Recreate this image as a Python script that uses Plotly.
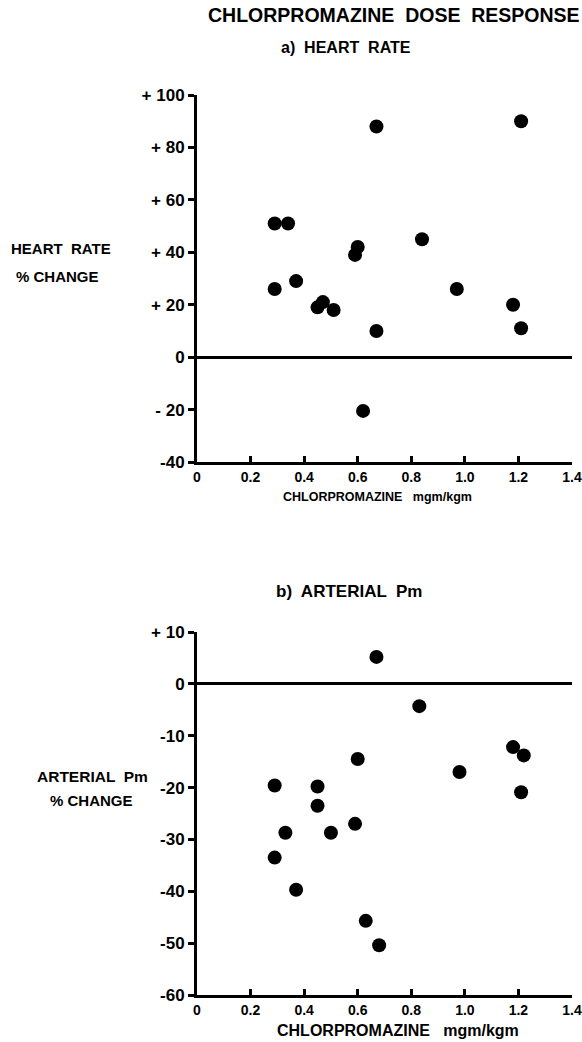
import plotly.graph_objects as go

# ---- data ----
hr_dose = [0.29, 0.34, 0.29, 0.37, 0.45, 0.47, 0.51, 0.59, 0.60, 0.67, 0.84, 1.21, 0.67, 0.62, 0.97, 1.18, 1.21]
hr_change = [51, 51, 26, 29, 19, 21, 18, 39, 42, 88, 45, 90, 10, -20.5, 26, 20, 11]

ap_dose = [0.29, 0.33, 0.29, 0.37, 0.67, 0.83, 0.60, 0.45, 0.45, 0.98, 1.18, 1.22, 1.21, 0.50, 0.59, 0.63, 0.68]
ap_change = [-19.6, -28.7, -33.5, -39.7, 5.2, -4.3, -14.5, -19.8, -23.5, -17, -12.2, -13.8, -20.9, -28.7, -27, -45.7, -50.4]

x_ticks = [0, 0.2, 0.4, 0.6, 0.8, 1.0, 1.2, 1.4]
x_ticktext = ["0", "0.2", "0.4", "0.6", "0.8", "1.0", "1.2", "1.4"]
hr_ticks = [100, 80, 60, 40, 20, 0, -20, -40]
hr_ticktext = ["+\u00a0100", "+\u00a080", "+\u00a060", "+\u00a040", "+\u00a020", "0", "-\u00a020", "-40"]
ap_ticks = [10, 0, -10, -20, -30, -40, -50, -60]
ap_ticktext = ["+\u00a010", "0", "-10", "-20", "-30", "-40", "-50", "-60"]

W, H = 582, 1042
FONT = "Liberation Sans"

def px(x):
    return x / W

def py(y):
    return 1 - y / H

fig = go.Figure()
fig.add_trace(go.Scatter(x=hr_dose, y=hr_change, mode="markers", xaxis="x", yaxis="y",
                         marker=dict(size=14, color="black"), showlegend=False))
fig.add_trace(go.Scatter(x=ap_dose, y=ap_change, mode="markers", xaxis="x2", yaxis="y2",
                         marker=dict(size=14, color="black"), showlegend=False))

def xaxis(anchor, size):
    return dict(domain=[px(197), px(572)], range=[0, 1.4], anchor=anchor, automargin=False,
                tickvals=x_ticks, ticktext=x_ticktext, ticks="inside", ticklen=6,
                tickwidth=2.5, tickcolor="black", showline=True, linewidth=3,
                linecolor="black", showgrid=False, zeroline=False,
                tickfont=dict(family=FONT, size=size, color="black", weight="bold"))

def yaxis(anchor, dom, rng, tv, tt):
    return dict(domain=dom, range=rng, anchor=anchor, tickvals=tv, ticktext=tt, automargin=False,
                ticks="outside", ticklen=6, tickwidth=2.5, tickcolor="black",
                showline=True, linewidth=3, linecolor="black", showgrid=False,
                zeroline=True, zerolinewidth=3, zerolinecolor="black",
                tickfont=dict(family=FONT, size=17, color="black", weight="bold"))

fig.update_layout(
    width=W, height=H, margin=dict(l=0, r=0, t=0, b=0, autoexpand=False),
    paper_bgcolor="white", plot_bgcolor="white",
    font=dict(family=FONT, color="black", weight="bold"),
    xaxis=xaxis("y", 14),
    yaxis=yaxis("x", [py(462), py(95)], [-40, 100], hr_ticks, hr_ticktext),
    xaxis2=xaxis("y2", 14),
    yaxis2=yaxis("x2", [py(995), py(632)], [-60, 10], ap_ticks, ap_ticktext),
)

def note(text, x, y, size):
    fig.add_annotation(text=text, x=px(x), y=py(y), xref="paper", yref="paper",
                       xanchor="center", yanchor="middle", showarrow=False,
                       font=dict(family=FONT, size=size, color="black", weight="bold"))

note("CHLORPROMAZINE  DOSE  RESPONSE", 394, 15, 19.5)
note("a)  HEART  RATE", 346, 47, 16)
note("HEART  RATE", 61, 249, 15)
note("% CHANGE", 57, 277, 15)
note("CHLORPROMAZINE   mgm/kgm", 377, 497, 12.5)
note("b)  ARTERIAL  Pm", 349, 591, 17)
note("ARTERIAL  Pm", 92, 776, 15.5)
note("% CHANGE", 91, 800, 15)
note("CHLORPROMAZINE   mgm/kgm", 398, 1030, 16)

fig.write_html("out.html", config={"displayModeBar": False},
               post_script="document.body.style.margin='0';document.body.style.overflow='hidden';")
